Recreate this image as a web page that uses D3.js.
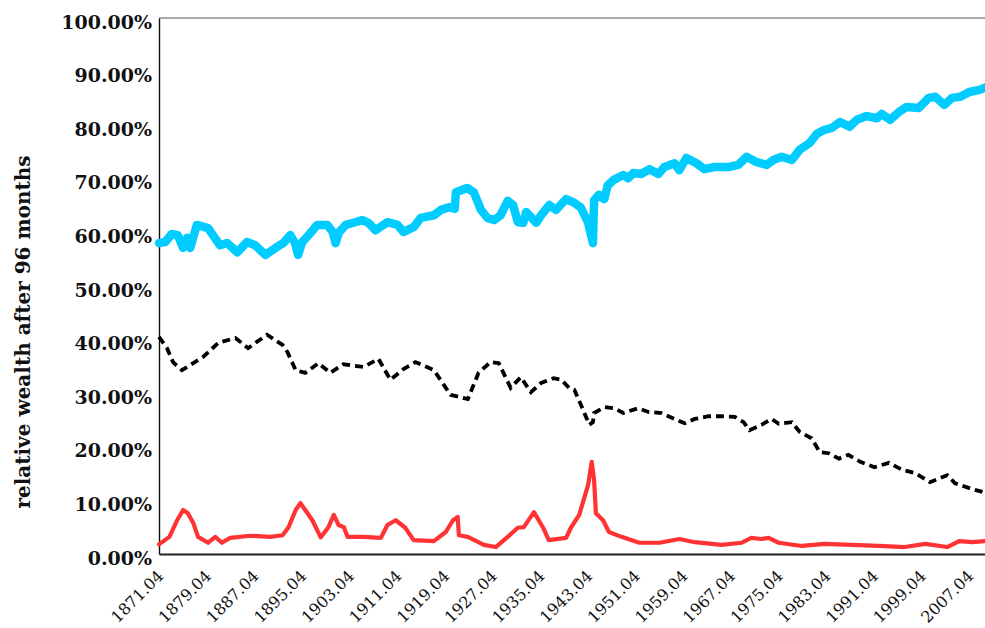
<!DOCTYPE html>
<html>
<head>
<meta charset="utf-8">
<script src="https://cdn.jsdelivr.net/npm/d3@7"></script>
<style>
  html, body { margin: 0; padding: 0; background: #fff; overflow: hidden; }
  svg { display: block; }
</style>
</head>
<body>
<svg id="chart" width="985" height="628"></svg>
<script>
// Relative wealth after 96 months, three strategies (percent), by fractional year
const cyanSeries = [
  [1871.25,58.0],[1872.3,58.2],[1873.4,59.7],[1874.4,59.5],[1875.3,57.1],[1876.0,59.0],[1876.5,57.1],
  [1877.6,61.4],[1879.5,60.8],[1880.3,59.5],[1881.5,57.6],[1882.7,58.0],[1884.4,56.3],[1886.0,58.2],
  [1887.4,57.6],[1889.1,55.8],[1890.8,57.1],[1892.1,58.0],[1893.3,59.5],[1894.1,58.0],[1894.6,55.8],
  [1895.3,58.2],[1896.7,59.9],[1897.8,61.4],[1899.5,61.4],[1900.4,60.1],[1900.9,58.0],[1901.4,59.9],
  [1902.6,61.4],[1903.9,61.8],[1905.4,62.3],[1906.4,61.8],[1907.6,60.4],[1909.6,61.9],[1911.3,61.4],
  [1912.3,60.1],[1914.0,61.0],[1915.2,62.7],[1917.4,63.2],[1918.6,64.2],[1919.9,64.7],[1920.9,64.4],
  [1921.1,67.5],[1923.0,68.3],[1924.1,67.5],[1925.3,64.2],[1926.4,62.7],[1927.5,62.3],[1928.6,63.2],
  [1929.8,65.9],[1930.7,65.1],[1931.5,61.9],[1932.4,61.8],[1932.9,63.8],[1934.6,61.8],[1935.4,63.2],
  [1936.8,65.1],[1937.9,64.2],[1939.6,66.2],[1941.0,65.5],[1942.1,64.6],[1943.3,61.8],[1944.1,58.0],
  [1944.3,66.0],[1945.1,67.0],[1946.0,66.2],[1946.6,68.8],[1947.6,69.8],[1949.2,70.7],[1950.0,70.1],
  [1950.9,71.1],[1952.2,70.9],[1953.6,71.8],[1955.1,70.9],[1956.1,72.2],[1957.8,72.9],[1958.6,71.6],
  [1959.8,73.9],[1961.5,72.9],[1962.8,71.8],[1964.5,72.2],[1966.9,72.2],[1968.5,72.6],[1969.9,74.1],
  [1971.6,73.1],[1973.3,72.6],[1974.4,73.5],[1975.8,74.1],[1977.5,73.5],[1978.8,75.4],[1980.5,76.7],
  [1981.7,78.4],[1982.9,79.1],[1984.2,79.5],[1985.6,80.6],[1987.2,79.7],[1988.4,81.0],[1990.1,81.7],
  [1991.8,81.3],[1992.6,82.1],[1994.0,81.0],[1995.5,82.5],[1996.8,83.4],[1998.8,83.2],[2000.5,85.1],
  [2001.6,85.3],[2003.1,83.8],[2004.4,85.1],[2005.8,85.3],[2007.3,86.2],[2009.0,86.6],[2010.1,87.1]
];

const blackSeries = [
  [1871.25,40.5],[1872.6,38.4],[1873.6,35.8],[1875.1,34.3],[1877.0,35.6],[1878.7,36.8],[1881.2,39.4],
  [1884.1,40.3],[1886.2,38.4],[1887.7,39.6],[1889.4,40.9],[1892.0,39.0],[1892.8,37.7],[1894.2,34.3],
  [1895.8,33.8],[1898.0,35.6],[1900.0,33.8],[1902.2,35.4],[1905.6,34.9],[1908.1,36.4],[1910.1,32.5],
  [1912.3,34.5],[1914.3,35.8],[1917.4,34.3],[1920.2,29.7],[1923.1,28.9],[1924.9,33.8],[1926.9,35.8],
  [1928.3,35.6],[1930.3,31.0],[1932.0,33.0],[1933.7,30.2],[1935.4,31.9],[1937.5,32.8],[1938.8,32.5],
  [1940.1,31.0],[1941.0,30.6],[1942.1,27.8],[1943.5,24.1],[1944.1,24.6],[1944.3,26.3],[1946.0,27.4],
  [1947.7,27.2],[1949.2,26.3],[1951.7,27.2],[1953.4,26.5],[1955.6,26.3],[1957.8,25.2],[1959.5,24.4],
  [1961.2,25.2],[1963.5,25.7],[1965.7,25.7],[1967.9,25.6],[1969.4,24.6],[1970.4,23.1],[1972.4,24.1],
  [1974.1,25.2],[1975.3,24.3],[1977.5,24.6],[1978.8,22.8],[1980.8,21.6],[1982.2,19.0],[1983.7,18.8],
  [1985.4,17.8],[1987.0,18.5],[1989.0,17.2],[1991.4,16.2],[1993.8,17.0],[1996.0,15.7],[1998.2,15.1],
  [2000.7,13.4],[2003.6,14.7],[2004.9,13.2],[2007.8,12.1],[2010.1,11.4]
];

const redSeries = [
  [1871.25,1.8],[1873.0,3.2],[1874.3,6.3],[1875.3,8.2],[1876.1,7.6],[1877.0,5.8],[1877.8,3.2],
  [1879.5,2.1],[1880.7,3.2],[1881.8,2.1],[1883.2,3.0],[1886.6,3.4],[1889.9,3.2],[1892.0,3.5],
  [1893.0,5.0],[1894.2,8.2],[1895.0,9.5],[1895.8,8.2],[1897.0,6.3],[1898.4,3.1],[1899.7,5.0],
  [1900.6,7.3],[1901.4,5.4],[1902.3,5.0],[1902.9,3.2],[1905.6,3.2],[1908.5,3.0],[1909.6,5.4],
  [1911.0,6.3],[1912.6,4.9],[1914.0,2.6],[1917.4,2.4],[1919.4,4.1],[1920.6,6.3],[1921.4,6.9],
  [1921.6,3.5],[1923.1,3.2],[1925.8,1.7],[1927.8,1.3],[1929.8,3.2],[1931.5,4.9],[1932.5,5.0],
  [1934.2,7.8],[1935.7,5.0],[1936.7,2.6],[1939.6,3.0],[1940.4,4.9],[1941.8,7.3],[1943.3,12.9],
  [1943.9,17.2],[1944.3,13.8],[1944.6,7.6],[1945.8,6.3],[1946.8,4.1],[1948.9,3.2],[1951.9,2.1],
  [1955.3,2.1],[1958.6,2.8],[1961.2,2.2],[1965.7,1.7],[1969.1,2.1],[1970.7,3.0],[1972.4,2.8],
  [1973.6,3.0],[1975.3,2.1],[1979.2,1.5],[1983.0,1.9],[1987.6,1.7],[1992.1,1.5],[1996.5,1.3],
  [1999.9,1.9],[2003.6,1.3],[2005.6,2.4],[2007.8,2.2],[2010.1,2.4]
];

// Axis ticks: every 96 months starting April 1871
const xTickYears = d3.range(1871.25, 2008, 8);
const xTickLabels = ["1871.04","1879.04","1887.04","1895.04","1903.04","1911.04","1919.04","1927.04",
  "1935.04","1943.04","1951.04","1959.04","1967.04","1975.04","1983.04","1991.04","1999.04","2007.04"];
const yTicks = [0,10,20,30,40,50,60,70,80,90,100];
const yTitle = "relative wealth after 96 months";

const margin = { left: 159, right: 986, top: 18, bottom: 554 };
const svg = d3.select("#chart");

const x = d3.scaleLinear().domain([1871.25, 2010.1]).range([margin.left, margin.right]);
const y = d3.scaleLinear().domain([0, 100]).range([margin.bottom, margin.top]);

// frame: top border, left and bottom axes
svg.append("line").attr("x1", margin.left).attr("x2", 990).attr("y1", margin.top).attr("y2", margin.top)
  .attr("stroke", "#555").attr("stroke-width", 1.2);

const yAxis = d3.axisLeft(y).tickValues(yTicks).tickSize(0).tickPadding(7)
  .tickFormat(d => d.toFixed(2) + "%");
const gy = svg.append("g").attr("transform", `translate(${margin.left},0)`).call(yAxis);
gy.select(".domain").attr("stroke", "#111").attr("stroke-width", 1.4);
gy.selectAll("text").attr("font-family", "'DejaVu Serif', serif").attr("font-weight", "bold")
  .attr("font-size", 19).attr("fill", "#111").attr("dy", "0.53em");

const xAxis = d3.axisBottom(x).tickValues(xTickYears).tickSize(0)
  .tickFormat((d, i) => xTickLabels[i]);
const gx = svg.append("g").attr("transform", `translate(0,${margin.bottom})`).call(xAxis);
gx.select(".domain").attr("stroke", "#222").attr("stroke-width", 2);
gx.selectAll("text")
  .attr("font-family", "'DejaVu Serif', serif").attr("font-size", 16).attr("fill", "#111")
  .attr("text-anchor", "end").attr("dy", 0).attr("y", 0)
  .attr("transform", "translate(5,23) rotate(-45)");

svg.append("text")
  .attr("transform", `translate(30,332) rotate(-90)`)
  .attr("text-anchor", "middle")
  .attr("font-family", "'DejaVu Serif', serif").attr("font-weight", "bold").attr("font-size", 20)
  .attr("fill", "#111")
  .text(yTitle);

const line = d3.line().x(d => x(d[0])).y(d => y(d[1]));

const plot = svg.append("g");
plot.append("path").datum(cyanSeries).attr("d", line)
  .attr("fill", "none").attr("stroke", "#00ccff").attr("stroke-width", 8.5)
  .attr("stroke-linejoin", "round").attr("stroke-linecap", "round");
plot.append("path").datum(blackSeries).attr("d", line)
  .attr("fill", "none").attr("stroke", "#000").attr("stroke-width", 3.8)
  .attr("stroke-dasharray", "8,5");
plot.append("path").datum(redSeries).attr("d", line)
  .attr("fill", "none").attr("stroke", "#ff3333").attr("stroke-width", 4.2)
  .attr("stroke-linejoin", "round").attr("stroke-linecap", "round");
</script>
</body>
</html>
